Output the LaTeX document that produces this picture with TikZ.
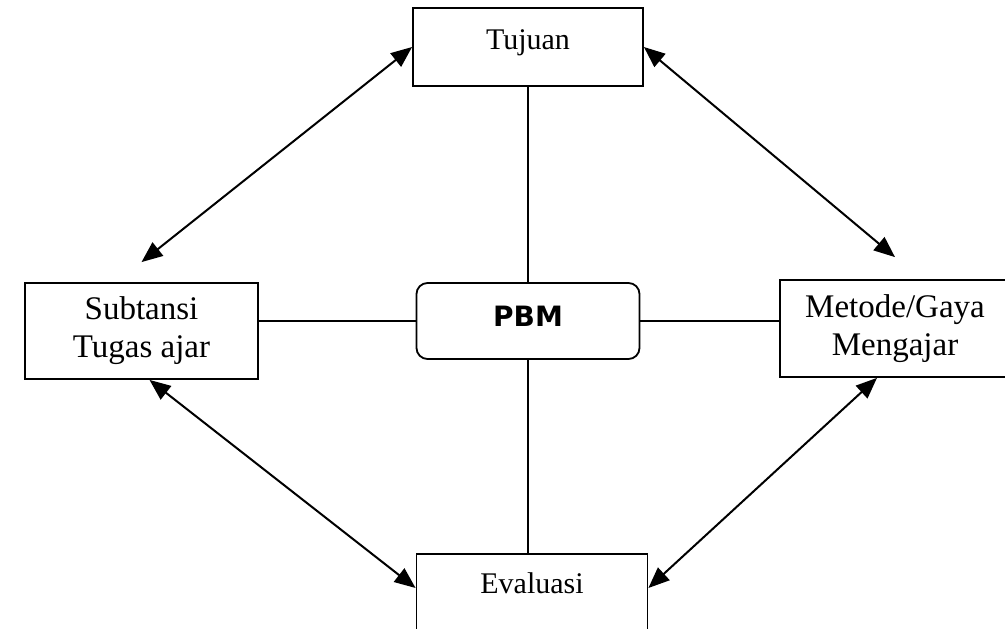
\documentclass[tikz,border=0pt]{standalone}
\usepackage{fontspec}
\setmainfont{Liberation Serif}
\newfontfamily\pbmFont{DejaVu Sans}
\usetikzlibrary{arrows.meta}
\newcommand{\twoWay}[2]{%%
  \draw[arrowStyle] (#1) -- (#2);
}

\begin{document}
\begin{tikzpicture}[%%
  x=1pt,y=-1pt,%%
  lineStyle/.style={-,line width=1.7pt},%%
  arrowStyle/.style={{Triangle[length=21pt,width=17pt]}-{Triangle[length=21pt,width=17pt]},line width=2pt},%%
  boxStyle/.style={draw,line width=1.8pt,rectangle,align=center,inner sep=0pt,font=\fontsize{30}{36}\selectfont},%%
  bigText/.style={font=\fontsize{33}{38}\selectfont}
]
%%
\useasboundingbox (0,0) rectangle (1005,629);
\clip (0,0) rectangle (1005,629);
%%
%% The boxes.
\node[boxStyle,minimum width=230pt,minimum height=78pt,text height=21pt,text depth=17pt] (tujuan) at (528,47) {Tujuan};
\node[boxStyle,bigText,minimum width=233pt,minimum height=96pt] (subtansi) at (141.5,331) {Subtansi\\Tugas ajar};
\node[boxStyle,bigText,minimum width=230pt,minimum height=97pt] (metode) at (895,328.5) {Metode/Gaya\\Mengajar};
\node[boxStyle,rounded corners=11pt,minimum width=223pt,minimum height=76pt,text height=21pt,text depth=11pt,%%
  font=\pbmFont\bfseries\fontsize{28}{32}\selectfont] (pbm) at (528,321) {PBM};
\node[boxStyle,minimum width=231pt,text height=30pt,text depth=50pt,inner ysep=10pt,%%
  anchor=north] (evaluasi) at (532,553) {Evaluasi};
%%
%% Plain lines from PBM to the four boxes.
\draw[lineStyle] (pbm.north) -- (pbm.north |- tujuan.south);
\draw[lineStyle] (pbm.south) -- (pbm.south |- evaluasi.north);
\draw[lineStyle] (pbm.west) -- (pbm.west -| subtansi.east);
\draw[lineStyle] (pbm.east) -- (pbm.east -| metode.west);
%%
%% Double arrows round the outside.
\twoWay{tujuan.west}{[yshift=20pt]subtansi.north}
\twoWay{tujuan.east}{[yshift=22pt]metode.north}
\twoWay{[xshift=8pt]subtansi.south}{[yshift=-35pt]evaluasi.north west}
\twoWay{[xshift=-18pt]metode.south}{[yshift=-35pt]evaluasi.north east}
\end{tikzpicture}
\end{document}
